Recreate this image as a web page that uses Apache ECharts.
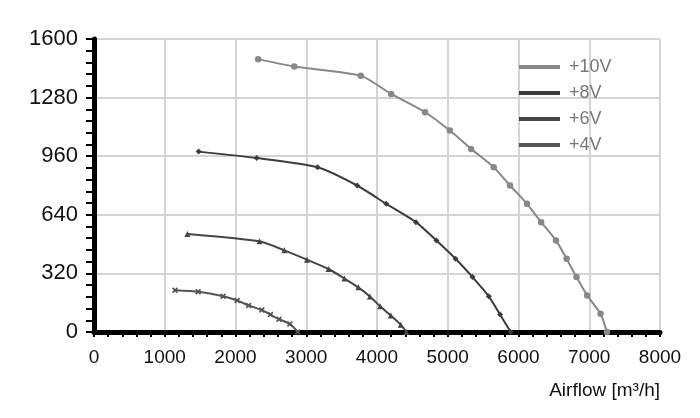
<!DOCTYPE html>
<html>
<head>
<meta charset="utf-8">
<script src="https://cdn.jsdelivr.net/npm/echarts@6/dist/echarts.min.js"></script>
<style>html,body{margin:0;padding:0;background:#fff}#c{width:700px;height:418px}</style>
</head>
<body>
<div id="c"></div>
<script>
var seriesNames = ['+10V', '+8V', '+6V', '+4V'];
var x10 = [2320, 2830, 3770, 4200, 4680, 5030, 5330, 5650, 5880, 6120, 6320, 6530, 6680, 6820, 6970, 7160, 7250];
var y10 = [1490, 1450, 1400, 1300, 1200, 1100, 1000, 900, 800, 700, 600, 500, 400, 300, 200, 100, 0];
var x8 = [1480, 2300, 3160, 3720, 4130, 4550, 4840, 5110, 5350, 5580, 5740, 5890];
var y8 = [985, 950, 900, 800, 700, 600, 500, 400, 300, 195, 95, 0];
var x6 = [1320, 2340, 2690, 3010, 3315, 3540, 3736, 3900, 4045, 4195, 4335, 4415];
var y6 = [535, 495, 446, 395, 344, 292, 244, 194, 140, 90, 40, 0];
var x4 = [1145, 1472, 1825, 2024, 2186, 2372, 2495, 2615, 2768, 2880];
var y4 = [228, 220, 195, 172, 145, 120, 95, 70, 44, 0];
var xTicks = [0, 1000, 2000, 3000, 4000, 5000, 6000, 7000, 8000];
var yTicks = [0, 320, 640, 960, 1280, 1600];

function zip(xs, ys) { return xs.map(function (x, i) { return [x, ys[i]]; }); }

var colors = ['#888888', '#3c3c3c', '#454545', '#555555'];
var crossPath = 'path://M2,0L5,3L8,0L10,2L7,5L10,8L8,10L5,7L2,10L0,8L3,5L0,2Z';
var symbols = ['circle', 'diamond', 'triangle', crossPath];
var sizes = [6.5, 6, 6, 6];
var dataSets = [zip(x10, y10), zip(x8, y8), zip(x6, y6), zip(x4, y4)];

var chart = echarts.init(document.getElementById('c'), null, { renderer: 'canvas' });
var font = 'Liberation Sans, Arial, Helvetica, sans-serif';
chart.setOption({
  animation: false,
  backgroundColor: '#ffffff',
  grid: { left: 94, right: 40, top: 39, bottom: 86, containLabel: false },
  legend: {
    orient: 'vertical',
    left: 519,
    top: 57,
    padding: 0,
    itemWidth: 41,
    itemHeight: 4,
    itemGap: 6,
    icon: 'rect',
    textStyle: { fontFamily: font, fontSize: 18, color: '#777777', padding: [0, 0, 0, 4], lineHeight: 20 },
    data: seriesNames
  },
  xAxis: {
    type: 'value',
    min: xTicks[0],
    max: xTicks[xTicks.length - 1],
    interval: 1000,
    name: 'Airflow [m³/h]',
    nameLocation: 'end',
    nameGap: 0,
    nameTextStyle: { fontFamily: font, fontSize: 19, color: '#111', align: 'right', verticalAlign: 'top', padding: [49, 0, 0, 0] },
    axisLine: { show: true, onZero: false, lineStyle: { color: '#000', width: 5 } },
    axisTick: { show: true, length: 5, lineStyle: { color: '#000', width: 2 } },
    minorTick: { show: true, splitNumber: 5, length: 5, lineStyle: { color: '#000', width: 2 } },
    axisLabel: { fontFamily: font, fontSize: 19, color: '#111', margin: 16, formatter: function (v) { return String(v); } },
    splitLine: { show: true, lineStyle: { color: '#d4d4d4', width: 2 } }
  },
  yAxis: {
    type: 'value',
    min: yTicks[0],
    max: yTicks[yTicks.length - 1],
    interval: 320,
    axisLine: { show: true, onZero: false, lineStyle: { color: '#000', width: 5 } },
    axisTick: { show: true, length: 8, lineStyle: { color: '#000', width: 2 } },
    minorTick: { show: true, splitNumber: 5, length: 8, lineStyle: { color: '#000', width: 2 } },
    axisLabel: { fontFamily: font, fontSize: 22, color: '#111', margin: 16, formatter: function (v) { return String(v); } },
    splitLine: { show: true, lineStyle: { color: '#d4d4d4', width: 2 } }
  },
  series: seriesNames.map(function (n, i) {
    return {
      name: n,
      type: 'line',
      data: dataSets[i],
      smooth: 0.2,
      symbol: symbols[i],
      symbolSize: sizes[i],
      showSymbol: true,
      color: colors[i],
      lineStyle: { color: colors[i], width: 2 },
      itemStyle: { color: colors[i] },
      z: 3
    };
  })
});
</script>
</body>
</html>
